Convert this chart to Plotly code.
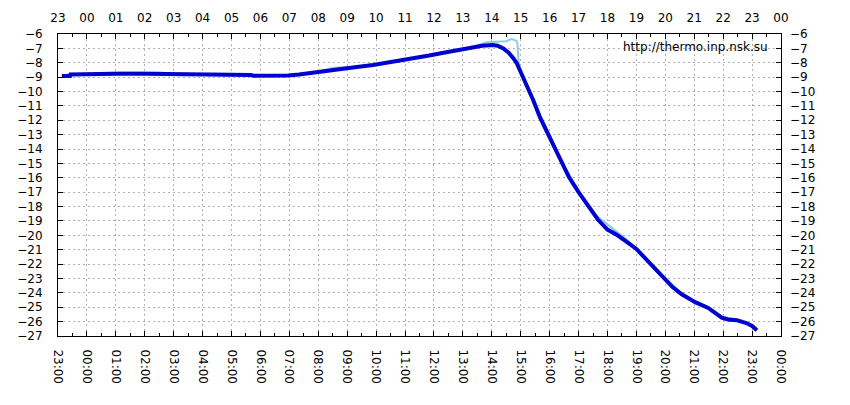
import plotly.graph_objects as go

day0 = "2024-01-14 "
day1 = "2024-01-15 "
day2 = "2024-01-16 "

# main sensor (dark blue)
times = [day0 + "23:08", day0 + "23:25", day0 + "23:26",
         day1 + "00:00", day1 + "00:30", day1 + "01:00", day1 + "02:00", day1 + "03:00",
         day1 + "03:02", day1 + "04:00", day1 + "05:00", day1 + "05:40", day1 + "05:45",
         day1 + "06:30", day1 + "06:57", day1 + "07:20", day1 + "07:56", day1 + "08:20",
         day1 + "08:45", day1 + "09:20", day1 + "09:54", day1 + "10:20", day1 + "10:50",
         day1 + "11:20", day1 + "11:50", day1 + "12:20", day1 + "12:50", day1 + "13:20",
         day1 + "13:40", day1 + "14:02", day1 + "14:12", day1 + "14:24", day1 + "14:35",
         day1 + "14:45", day1 + "14:52", day1 + "15:02", day1 + "15:15", day1 + "15:26",
         day1 + "15:40", day1 + "16:00", day1 + "16:22", day1 + "16:40", day1 + "17:00",
         day1 + "17:25", day1 + "17:40", day1 + "18:00", day1 + "18:20", day1 + "18:40",
         day1 + "19:00", day1 + "19:14", day1 + "19:30", day1 + "19:59", day1 + "20:15",
         day1 + "20:34", day1 + "21:02", day1 + "21:29", day1 + "21:45", day1 + "21:57",
         day1 + "22:10", day1 + "22:28", day1 + "22:48", day1 + "23:00", day1 + "23:10"]
temps = [-8.92, -8.92, -8.82,
         -8.78, -8.76, -8.76, -8.76, -8.77,
         -8.83, -8.84, -8.84, -8.85, -8.9,
         -8.9, -8.88, -8.82, -8.68, -8.55,
         -8.42, -8.3, -8.15, -8.02, -7.87,
         -7.7, -7.5, -7.3, -7.1, -6.95,
         -6.82, -6.76, -6.82, -7.0, -7.3,
         -7.7, -8.05, -8.8, -9.7, -10.6,
         -11.8, -13.2, -14.8, -15.95, -17.0,
         -18.25, -18.9, -19.6, -19.98, -20.45,
         -20.95, -21.45, -22.0, -23.0, -23.6,
         -24.1, -24.65, -25.05, -25.4, -25.72,
         -25.85, -25.9, -26.1, -26.3, -26.6]

# second sensor (light blue)
times2 = [day0 + "23:08", day0 + "23:26", day1 + "00:00", day1 + "01:00", day1 + "02:30",
          day1 + "03:00", day1 + "04:00", day1 + "05:30", day1 + "05:45", day1 + "06:57",
          day1 + "07:56", day1 + "08:30", day1 + "09:20", day1 + "10:20", day1 + "11:20",
          day1 + "12:20", day1 + "13:20", day1 + "13:49", day1 + "14:10", day1 + "14:30",
          day1 + "14:41", day1 + "14:50", day1 + "14:53", day1 + "14:56", day1 + "15:02",
          day1 + "15:20", day1 + "15:40", day1 + "16:00", day1 + "16:22", day1 + "17:00",
          day1 + "17:30", day1 + "18:10", day1 + "18:40", day1 + "19:14", day1 + "19:59",
          day1 + "20:34", day1 + "21:02", day1 + "21:29", day1 + "21:57", day1 + "22:28",
          day1 + "22:48", day1 + "23:00", day1 + "23:10"]
temps2 = [-8.9, -8.8, -8.76, -8.68, -8.68,
          -8.76, -8.78, -8.78, -8.88, -8.86,
          -8.66, -8.35, -8.27, -8.0, -7.68,
          -7.27, -6.92, -6.58, -6.55, -6.5,
          -6.35, -6.45, -6.6, -8.2, -8.7,
          -10.1, -11.65, -13.0, -14.7, -16.9,
          -18.45, -19.5, -20.3, -21.4, -22.95,
          -24.05, -24.6, -25.0, -25.65, -25.85,
          -26.05, -26.3, -26.6]

x_start = day0 + "23:00"
x_end = day2 + "00:00"
y_min, y_max = -27, -6

font = dict(family="DejaVu Sans", size=12, color="black")
grid = dict(showgrid=True, gridcolor="#b0b0b0", griddash="2px,3px", gridwidth=1)
minor = dict(dtick=1800000, ticks="inside", ticklen=3, tickcolor="black")

fig = go.Figure()
fig.add_trace(go.Scatter(x=times2, y=temps2, mode="lines",
                         line=dict(color="#8ccbe6", width=2), showlegend=False))
fig.add_trace(go.Scatter(x=times, y=temps, mode="lines",
                         line=dict(color="#0000d0", width=4), showlegend=False))
# carrier for the top and right axes
fig.add_trace(go.Scatter(x=[x_start, x_end], y=[y_min, y_min], xaxis="x2", yaxis="y2",
                         mode="lines", line=dict(width=0), hoverinfo="skip",
                         showlegend=False))

# page body has an 8px margin, so the figure is a bit smaller than the window
fig.update_layout(
    width=842, height=397,
    margin=dict(l=50, r=69, t=26, b=69),
    plot_bgcolor="white", paper_bgcolor="white",
    font=font,
    xaxis=dict(type="date", range=[x_start, x_end], dtick=3600000, tick0=x_start,
               tickformat="%H:%M", tickangle=90, ticks="inside", ticklen=5,
               tickcolor="black", showline=True, linecolor="black", mirror=True,
               minor=minor, ticklabelstandoff=10, automargin=False, **grid),
    xaxis2=dict(type="date", range=[x_start, x_end], dtick=3600000, tick0=x_start,
                tickformat="%H", overlaying="x", side="top", ticks="inside", ticklen=5,
                tickcolor="black", showgrid=False, minor=minor,
                ticklabelstandoff=9, automargin=False),
    yaxis=dict(range=[y_min, y_max], dtick=1, ticks="inside", ticklen=5,
               tickcolor="black", showline=True, linecolor="black", mirror=True,
               ticklabelstandoff=12, zeroline=False, automargin=False, **grid),
    yaxis2=dict(range=[y_min, y_max], dtick=1, overlaying="y", side="right",
                ticks="inside", ticklen=5, tickcolor="black", showgrid=False,
                zeroline=False, ticklabelstandoff=8, automargin=False),
)

fig.add_annotation(text="http://thermo.inp.nsk.su", xref="paper", yref="paper",
                   x=0.985, y=0.958, xanchor="right", yanchor="middle",
                   showarrow=False, font=dict(family="DejaVu Sans", size=12, color="black"))

fig.write_html("out.html")
